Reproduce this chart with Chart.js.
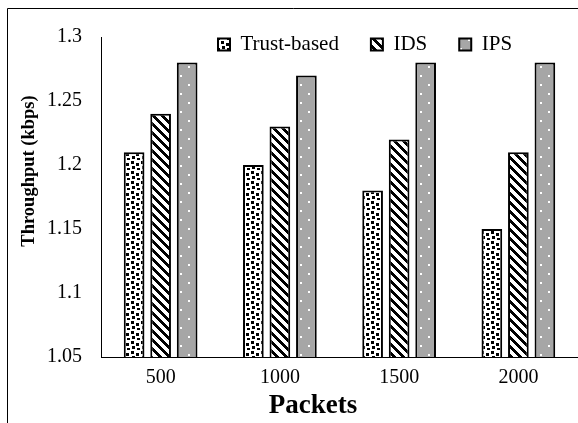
<!DOCTYPE html>
<html>
<head>
<meta charset="utf-8">
<script src="https://cdn.jsdelivr.net/npm/chart.js@4/dist/chart.umd.min.js"></script>
<style>
  html, body { margin: 0; padding: 0; background: #fff; }
  #wrap { width: 578px; height: 423px; position: relative; }
</style>
</head>
<body>
<div id="wrap"><canvas id="myChart" width="578" height="423"></canvas></div>
<script>
// data
let packets = ['500', '1000', '1500', '2000'];
let trustBased = [1.21, 1.20, 1.18, 1.15];
let ids = [1.24, 1.23, 1.22, 1.21];
let ips = [1.28, 1.27, 1.28, 1.28];
let yTicks = [1.05, 1.1, 1.15, 1.2, 1.25, 1.3];
let xTitle = 'Packets';
let yTitle = 'Throughput (kbps)';

let serif = "'Liberation Serif', 'Times New Roman', serif";

function makeTile(w, h, paint) {
  let c = document.createElement('canvas');
  c.width = w; c.height = h;
  let g = c.getContext('2d');
  paint(g);
  return document.createElement('canvas').getContext('2d').createPattern(c, 'repeat');
}

// white with small black squares
let dotsPattern = makeTile(10, 10, (g) => {
  g.fillStyle = '#fff'; g.fillRect(0, 0, 10, 10);
  g.fillStyle = '#000';
  g.fillRect(1, 1, 3, 3);
  g.fillRect(6, 3, 3, 3);
  g.fillRect(2, 6, 3, 3);
  g.fillRect(7, 8, 3, 2);
});

// "\" diagonal stripes
let stripePattern = makeTile(9, 9, (g) => {
  g.fillStyle = '#fff'; g.fillRect(0, 0, 9, 9);
  g.fillStyle = '#000';
  for (let y = 0; y < 9; y++) {
    for (let x = 0; x < 9; x++) {
      if (((x - y) % 9 + 9) % 9 < 4) g.fillRect(x, y, 1, 1);
    }
  }
});

// gray with white dots
let grayPattern = makeTile(16, 18, (g) => {
  g.fillStyle = '#a6a6a6'; g.fillRect(0, 0, 16, 18);
  g.fillStyle = '#fff';
  g.fillRect(4, 3, 2, 2);
  g.fillRect(12, 12, 2, 2);
});

// outer frame + axis titles (placed like the excel original, not centred on the plot)
let frame = {
  id: 'frame',
  beforeDraw(chart) {
    let ctx = chart.ctx;
    ctx.save();
    ctx.fillStyle = '#fff';
    ctx.fillRect(0, 0, chart.width, chart.height);
    ctx.strokeStyle = '#000';
    ctx.lineWidth = 1;
    ctx.beginPath();
    ctx.moveTo(7.5, chart.height + 2);
    ctx.lineTo(7.5, 8.5);
    ctx.lineTo(chart.width + 2, 8.5);
    ctx.stroke();
    ctx.restore();
  },
  afterDraw(chart) {
    let ctx = chart.ctx;
    ctx.save();
    ctx.fillStyle = '#000';
    ctx.textAlign = 'center';
    ctx.textBaseline = 'middle';
    ctx.font = 'bold 27px ' + serif;
    ctx.fillText(xTitle, 313, 406);
    ctx.translate(29, 171);
    ctx.rotate(-Math.PI / 2);
    ctx.font = 'bold 18.5px ' + serif;
    ctx.fillText(yTitle, 0, 0);
    ctx.restore();
  }
};

// legend sits over the plot, takes no room of its own
let legendOverPlot = {
  id: 'legendOverPlot',
  beforeLayout(chart) {
    let lg = chart.legend;
    if (lg && !lg._noRoom) {
      let fit = lg.fit.bind(lg);
      lg.fit = function () { fit(); this.height = 0; };
      lg._noRoom = true;
    }
  },
  afterLayout(chart) {
    let lg = chart.legend;
    let pad = lg.options.labels.padding;
    lg.left = 218 - pad;
    lg.right = 578;
    lg.top = 34 - pad;
    lg.bottom = 80;
    lg.width = lg.right - lg.left;
    lg.height = lg.bottom - lg.top;
  }
};

let barBase = {
  borderColor: '#000',
  borderWidth: 2,
  borderSkipped: false,
  barPercentage: 0.78,
  categoryPercentage: 0.667
};

new Chart(document.getElementById('myChart'), {
  type: 'bar',
  data: {
    labels: packets,
    datasets: [
      Object.assign({ label: 'Trust-based', data: trustBased, backgroundColor: dotsPattern }, barBase),
      Object.assign({ label: 'IDS', data: ids, backgroundColor: stripePattern }, barBase),
      Object.assign({ label: 'IPS', data: ips, backgroundColor: grayPattern }, barBase)
    ]
  },
  options: {
    responsive: false,
    animation: false,
    devicePixelRatio: 1,
    layout: { padding: { left: 0, top: 37, right: 0, bottom: 0 } },
    plugins: {
      tooltip: { enabled: false },
      legend: {
        position: 'top',
        align: 'start',
        labels: {
          boxWidth: 12,
          boxHeight: 12,
          padding: 32,
          color: '#000',
          font: { family: serif, size: 21 }
        }
      }
    },
    scales: {
      x: {
        grid: { display: false, drawTicks: false },
        border: { display: true, color: '#000', width: 1 },
        ticks: { color: '#000', padding: 9, font: { family: serif, size: 20 } },
        afterFit(scale) { scale.height = 66; }
      },
      y: {
        min: 1.05,
        max: 1.3,
        grid: { display: false, drawTicks: false },
        border: { display: true, color: '#000', width: 1 },
        afterBuildTicks(scale) { scale.ticks = yTicks.map(v => ({ value: v })); },
        ticks: {
          color: '#000', padding: 19,
          font: { family: serif, size: 20 },
          callback: (v) => String(+v.toFixed(2))
        },
        afterFit(scale) { scale.width = 101; }
      }
    }
  },
  plugins: [frame, legendOverPlot]
});
</script>
</body>
</html>
